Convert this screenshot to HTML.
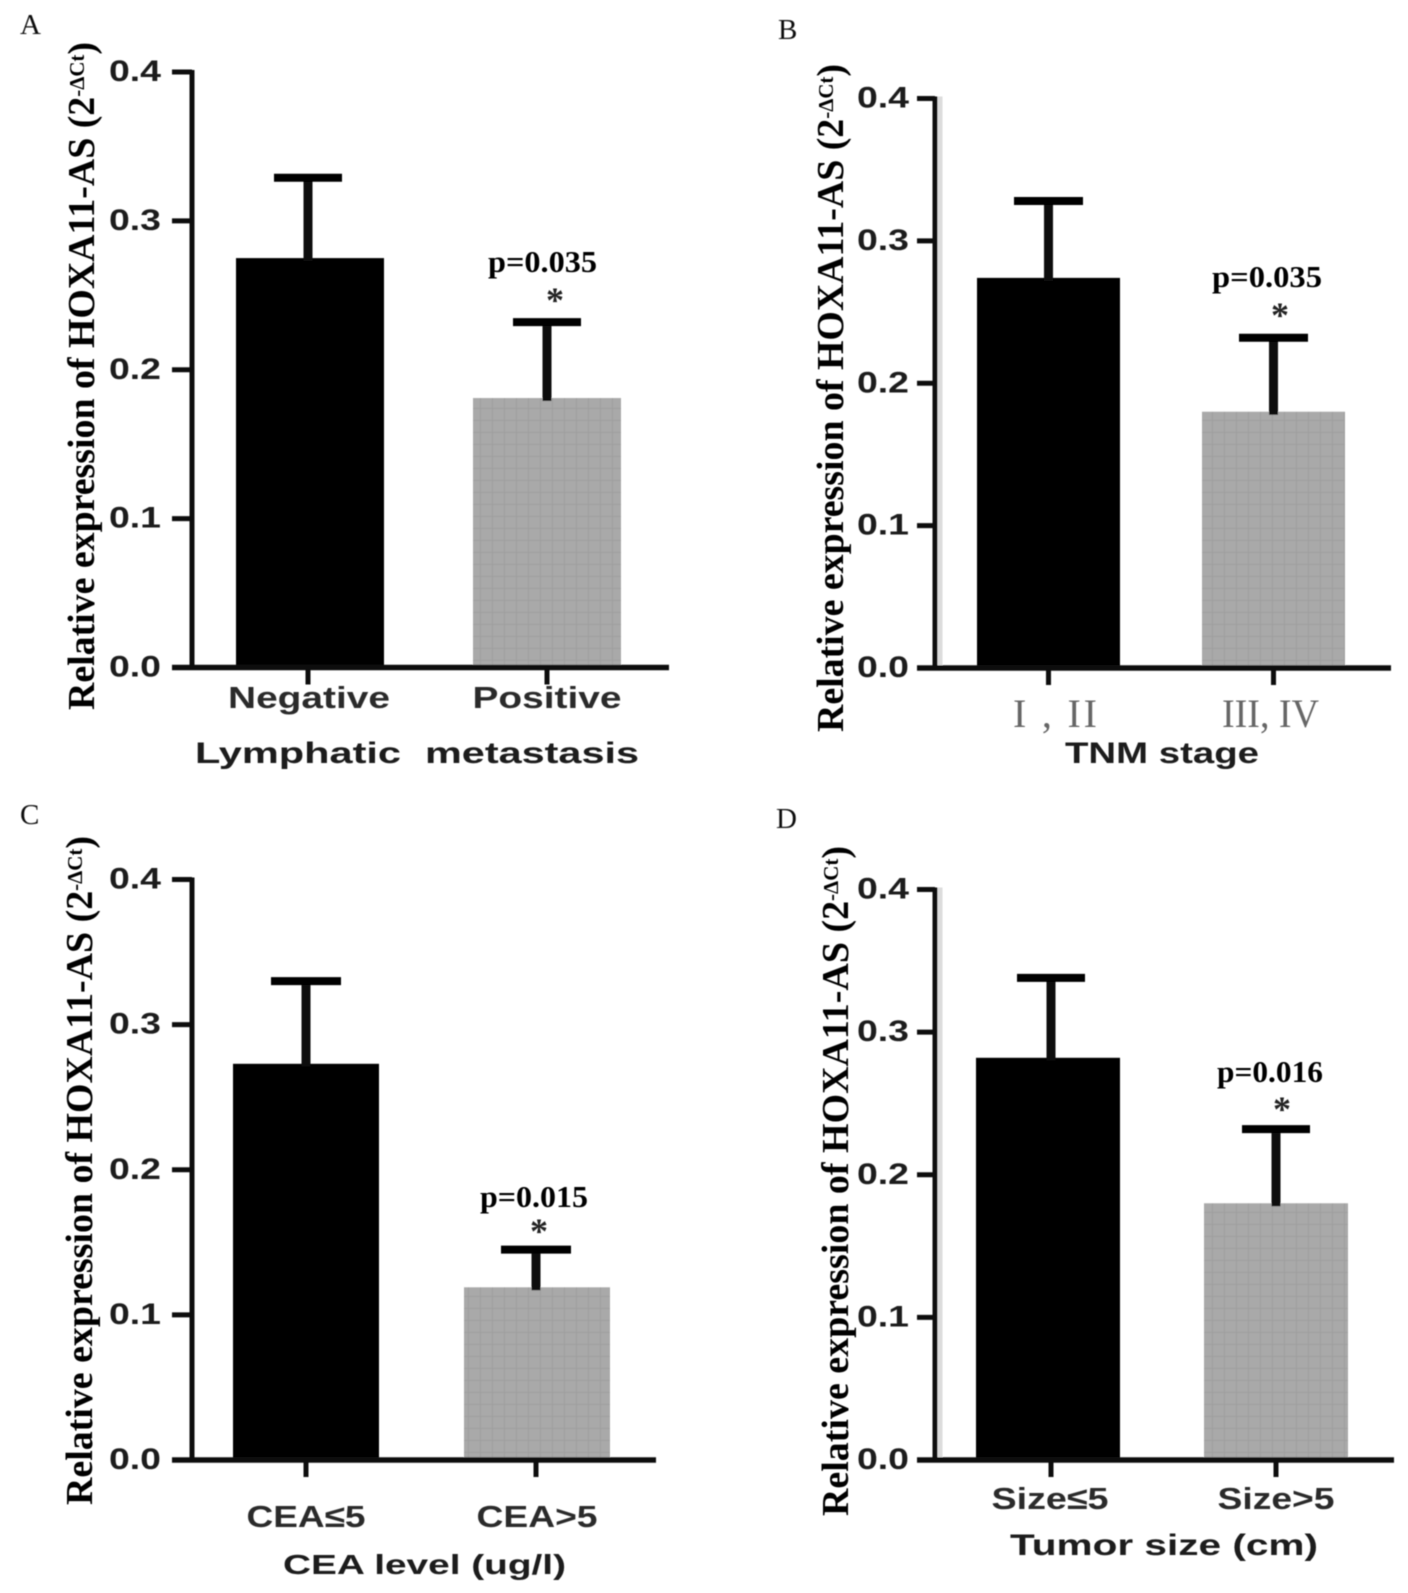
<!DOCTYPE html>
<html lang="en">
<head>
<meta charset="utf-8">
<title>HOXA11-AS relative expression</title>
<style>
html,body{margin:0;padding:0;background:#fff;}
svg{display:block;}
.tick{font:bold 30px "Liberation Sans",sans-serif;fill:#1f1f1f;}
.ytitle{font:bold 38px "Liberation Serif",serif;fill:#050505;}
.cat{font:bold 31px "Liberation Sans",sans-serif;fill:#2a2a2a;}
.xtitle{font:bold 30px "Liberation Sans",sans-serif;fill:#1a1a1a;}
.roman{font:40px "Liberation Serif",serif;fill:#666;}
.pval{font:bold 31px "Liberation Serif",serif;fill:#000;}
.star{font:bold 36px "Liberation Serif",serif;fill:#222;}
.letter{font:29px "Liberation Serif",serif;fill:#111;}
</style>
</head>
<body>
<svg id="figure" xmlns="http://www.w3.org/2000/svg" width="1408" height="1593" viewBox="0 0 1408 1593">
<defs>
<filter id="soft" x="-5%" y="-5%" width="110%" height="110%"><feGaussianBlur stdDeviation="0.6"/></filter>
<pattern id="mesh" width="12" height="12" patternUnits="userSpaceOnUse">
<rect width="12" height="12" fill="#a9a9a9"/>
<path d="M0 0H12M0 0V12" stroke="#9c9c9c" stroke-width="1.5"/>
</pattern>
</defs>
<rect width="1408" height="1593" fill="#fff"/>
<g filter="url(#soft)">
<g id="panel-a">
<text class="letter" x="20" y="34">A</text>
<text class="ytitle" transform="translate(94,710) rotate(-90)" textLength="668" lengthAdjust="spacingAndGlyphs">Relative expression of HOXA11-AS (2<tspan font-size="21" dy="-10">-ΔCt</tspan><tspan dy="10">)</tspan></text>
<text class="cat" x="309" y="708" text-anchor="middle" textLength="162" lengthAdjust="spacingAndGlyphs">Negative</text>
<text class="cat" x="547" y="708" text-anchor="middle" textLength="149" lengthAdjust="spacingAndGlyphs">Positive</text>
<text class="xtitle" x="195" y="763" textLength="206" lengthAdjust="spacingAndGlyphs">Lymphatic</text>
<text class="xtitle" x="425" y="763" textLength="214" lengthAdjust="spacingAndGlyphs">metastasis</text>
<text class="pval" x="488" y="272" textLength="109" lengthAdjust="spacingAndGlyphs">p=0.035</text>
<text class="star" x="555" y="312" text-anchor="middle">*</text>
</g>
<g id="panel-b">
<text class="letter" x="778" y="39">B</text>
<text class="ytitle" transform="translate(843,732) rotate(-90)" textLength="668" lengthAdjust="spacingAndGlyphs">Relative expression of HOXA11-AS (2<tspan font-size="21" dy="-10">-ΔCt</tspan><tspan dy="10">)</tspan></text>
<text class="roman" x="1013" y="727" textLength="84" lengthAdjust="spacing">I , II</text>
<text class="roman" x="1222" y="727" textLength="97" lengthAdjust="spacingAndGlyphs">III, IV</text>
<text class="xtitle" x="1065" y="763" textLength="194" lengthAdjust="spacingAndGlyphs">TNM stage</text>
<text class="pval" x="1212" y="287" textLength="110" lengthAdjust="spacingAndGlyphs">p=0.035</text>
<text class="star" x="1280" y="327" text-anchor="middle">*</text>
</g>
<g id="panel-c">
<text class="letter" x="20" y="824">C</text>
<text class="ytitle" transform="translate(92,1505) rotate(-90)" textLength="669" lengthAdjust="spacingAndGlyphs">Relative expression of HOXA11-AS (2<tspan font-size="21" dy="-10">-ΔCt</tspan><tspan dy="10">)</tspan></text>
<text class="cat" x="306" y="1527" text-anchor="middle" textLength="119" lengthAdjust="spacingAndGlyphs">CEA≤5</text>
<text class="cat" x="537" y="1527" text-anchor="middle" textLength="121" lengthAdjust="spacingAndGlyphs">CEA&gt;5</text>
<text class="xtitle" x="283" y="1574" textLength="283" lengthAdjust="spacingAndGlyphs" style="font-size:28px">CEA level (ug/l)</text>
<text class="pval" x="480" y="1207" textLength="108" lengthAdjust="spacingAndGlyphs">p=0.015</text>
<text class="star" x="539" y="1243" text-anchor="middle">*</text>
</g>
<g id="panel-d">
<text class="letter" x="776" y="828">D</text>
<text class="ytitle" transform="translate(848,1516) rotate(-90)" textLength="670" lengthAdjust="spacingAndGlyphs">Relative expression of HOXA11-AS (2<tspan font-size="21" dy="-10">-ΔCt</tspan><tspan dy="10">)</tspan></text>
<text class="cat" x="1050" y="1509" text-anchor="middle" textLength="117" lengthAdjust="spacingAndGlyphs">Size≤5</text>
<text class="cat" x="1276" y="1509" text-anchor="middle" textLength="117" lengthAdjust="spacingAndGlyphs">Size&gt;5</text>
<text class="xtitle" x="1010" y="1555" textLength="308" lengthAdjust="spacingAndGlyphs">Tumor size (cm)</text>
<text class="pval" x="1217" y="1082" textLength="106" lengthAdjust="spacingAndGlyphs">p=0.016</text>
<text class="star" x="1282" y="1121" text-anchor="middle">*</text>
</g>
</g>
</svg>
<script>
var yTickValues = [0, 0.1, 0.2, 0.3, 0.4];
var yTickLabels = ["0.0", "0.1", "0.2", "0.3", "0.4"];
var panelAMeans = [0.275, 0.181];
var panelAErrorTops = [0.329, 0.232];
var panelBMeans = [0.274, 0.180];
var panelBErrorTops = [0.328, 0.232];
var panelCMeans = [0.273, 0.119];
var panelCErrorTops = [0.330, 0.145];
var panelDMeans = [0.282, 0.180];
var panelDErrorTops = [0.338, 0.232];

var NS = 'http://www.w3.org/2000/svg';
var Y_MAX = 0.4;

function makeY(bottom, top) {
  return function (v) { return bottom - (v / Y_MAX) * (bottom - top); };
}
function shape(parent, tag, attrs) {
  var el = document.createElementNS(NS, tag);
  for (var k in attrs) { el.setAttribute(k, attrs[k]); }
  parent.appendChild(el);
  return el;
}

function drawPanel(id, means, tops, g) {
  var root = document.getElementById(id);
  var blurLayer = root.parentNode;
  var y = makeY(g.bottom, g.top);
  var holder = shape(blurLayer, 'g', {});
  
  

  means.forEach(function (m, i) {
    var cx = g.first + i * g.step;
    var fill = i === 0 ? '#000' : 'url(#mesh)';
    var bar = shape(holder, 'rect', { x: cx - g.barW / 2, y: y(m), width: g.barW, height: y(0) - y(m), fill: fill });
    
    

    var ex = cx + g.errShift[i];
    var stem = shape(holder, 'line', { x1: ex, x2: ex, y1: y(m) + 3, y2: y(tops[i]), stroke: '#0a0a0a', 'stroke-width': 9 });
    
    

    var cap = shape(holder, 'line', { x1: ex - g.capW / 2, x2: ex + g.capW / 2, y1: y(tops[i]), y2: y(tops[i]), stroke: '#000', 'stroke-width': 8 });
    
    

    var xt = shape(holder, 'line', { x1: ex, x2: ex, y1: y(0), y2: y(0) + 17, stroke: '#111', 'stroke-width': 5 });
    
    
  });

  if (g.axisShadow) {
    var shadow = shape(holder, 'line', { x1: g.axis + 5, x2: g.axis + 5, y1: y(Y_MAX) - 2, y2: y(0) - 3, stroke: '#dcdcdc', 'stroke-width': 5 });
    
    
  }

  var yAxis = shape(holder, 'line', { x1: g.axis, x2: g.axis, y1: y(Y_MAX) - 2, y2: y(0) + 2, stroke: '#111', 'stroke-width': 5 });
  
  

  var xAxis = shape(holder, 'line', { x1: g.axis - g.tickLen, x2: g.right, y1: y(0), y2: y(0), stroke: '#111', 'stroke-width': 5.5 });
  
  

  yTickValues.forEach(function (v, i) {
    var t = shape(holder, 'line', { x1: g.axis - g.tickLen, x2: g.axis, y1: y(v), y2: y(v), stroke: '#111', 'stroke-width': 5 });
    
    

    var lab = shape(holder, 'text', { x: g.axis - g.labelGap, y: y(v) + 9, 'text-anchor': 'end', 'class': 'tick', textLength: 52, lengthAdjust: 'spacingAndGlyphs' });
    lab.textContent = yTickLabels[i];
    
    
  });
}

drawPanel('panel-a', panelAMeans, panelAErrorTops, { bottom: 667.5, top: 72, axis: 192, right: 669, first: 310, step: 237, barW: 148, capW: 68, errShift: [-2, 0], tickLen: 20, labelGap: 31, axisShadow: false });
drawPanel('panel-b', panelBMeans, panelBErrorTops, { bottom: 668, top: 98.5, axis: 935, right: 1391, first: 1048.5, step: 225, barW: 143, capW: 69, errShift: [0, 0], tickLen: 18, labelGap: 26, axisShadow: true });
drawPanel('panel-c', panelCMeans, panelCErrorTops, { bottom: 1460, top: 879.5, axis: 192, right: 656, first: 306, step: 231, barW: 146, capW: 70, errShift: [0, -1], tickLen: 20, labelGap: 31, axisShadow: false });
drawPanel('panel-d', panelDMeans, panelDErrorTops, { bottom: 1460, top: 889.5, axis: 935, right: 1394, first: 1048, step: 228, barW: 144, capW: 68, errShift: [3, 0], tickLen: 18, labelGap: 26, axisShadow: true });
</script>
</body>
</html>
